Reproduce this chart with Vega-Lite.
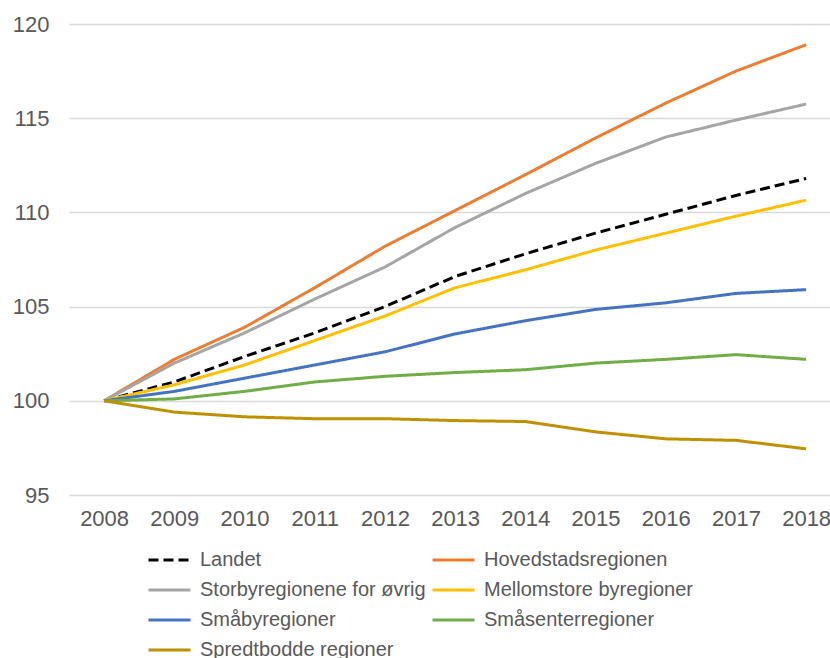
{
  "$schema": "https://vega.github.io/schema/vega-lite/v6.json",
  "width": 761,
  "height": 471,
  "autosize": {"type": "none"},
  "padding": {"left": 69, "top": 24, "right": 0, "bottom": 163},
  "background": "white",
  "config": {
    "view": {"stroke": null},
    "font": "Liberation Sans",
    "axis": {"labelFont": "Liberation Sans", "labelColor": "#595959", "labelFontSize": 22, "domain": false, "ticks": false, "tickSize": 0, "title": null}
  },
  "data": {
    "values": [
      {"region": "Landet", "year": 2008, "value": 100},
      {"region": "Landet", "year": 2009, "value": 101.0},
      {"region": "Landet", "year": 2010, "value": 102.35},
      {"region": "Landet", "year": 2011, "value": 103.6},
      {"region": "Landet", "year": 2012, "value": 105.0},
      {"region": "Landet", "year": 2013, "value": 106.6},
      {"region": "Landet", "year": 2014, "value": 107.8},
      {"region": "Landet", "year": 2015, "value": 108.9},
      {"region": "Landet", "year": 2016, "value": 109.9},
      {"region": "Landet", "year": 2017, "value": 110.9},
      {"region": "Landet", "year": 2018, "value": 111.8},
      {"region": "Hovedstadsregionen", "year": 2008, "value": 100},
      {"region": "Hovedstadsregionen", "year": 2009, "value": 102.2},
      {"region": "Hovedstadsregionen", "year": 2010, "value": 103.9},
      {"region": "Hovedstadsregionen", "year": 2011, "value": 106.0},
      {"region": "Hovedstadsregionen", "year": 2012, "value": 108.2},
      {"region": "Hovedstadsregionen", "year": 2013, "value": 110.1},
      {"region": "Hovedstadsregionen", "year": 2014, "value": 112.0},
      {"region": "Hovedstadsregionen", "year": 2015, "value": 113.95},
      {"region": "Hovedstadsregionen", "year": 2016, "value": 115.8},
      {"region": "Hovedstadsregionen", "year": 2017, "value": 117.5},
      {"region": "Hovedstadsregionen", "year": 2018, "value": 118.9},
      {"region": "Storbyregionene for øvrig", "year": 2008, "value": 100},
      {"region": "Storbyregionene for øvrig", "year": 2009, "value": 102.0},
      {"region": "Storbyregionene for øvrig", "year": 2010, "value": 103.6},
      {"region": "Storbyregionene for øvrig", "year": 2011, "value": 105.4},
      {"region": "Storbyregionene for øvrig", "year": 2012, "value": 107.1},
      {"region": "Storbyregionene for øvrig", "year": 2013, "value": 109.2},
      {"region": "Storbyregionene for øvrig", "year": 2014, "value": 111.0},
      {"region": "Storbyregionene for øvrig", "year": 2015, "value": 112.6},
      {"region": "Storbyregionene for øvrig", "year": 2016, "value": 114.0},
      {"region": "Storbyregionene for øvrig", "year": 2017, "value": 114.9},
      {"region": "Storbyregionene for øvrig", "year": 2018, "value": 115.75},
      {"region": "Mellomstore byregioner", "year": 2008, "value": 100},
      {"region": "Mellomstore byregioner", "year": 2009, "value": 100.85},
      {"region": "Mellomstore byregioner", "year": 2010, "value": 101.9},
      {"region": "Mellomstore byregioner", "year": 2011, "value": 103.2},
      {"region": "Mellomstore byregioner", "year": 2012, "value": 104.5},
      {"region": "Mellomstore byregioner", "year": 2013, "value": 106.0},
      {"region": "Mellomstore byregioner", "year": 2014, "value": 106.95},
      {"region": "Mellomstore byregioner", "year": 2015, "value": 108.0},
      {"region": "Mellomstore byregioner", "year": 2016, "value": 108.9},
      {"region": "Mellomstore byregioner", "year": 2017, "value": 109.8},
      {"region": "Mellomstore byregioner", "year": 2018, "value": 110.65},
      {"region": "Småbyregioner", "year": 2008, "value": 100},
      {"region": "Småbyregioner", "year": 2009, "value": 100.5},
      {"region": "Småbyregioner", "year": 2010, "value": 101.2},
      {"region": "Småbyregioner", "year": 2011, "value": 101.9},
      {"region": "Småbyregioner", "year": 2012, "value": 102.6},
      {"region": "Småbyregioner", "year": 2013, "value": 103.55},
      {"region": "Småbyregioner", "year": 2014, "value": 104.25},
      {"region": "Småbyregioner", "year": 2015, "value": 104.85},
      {"region": "Småbyregioner", "year": 2016, "value": 105.2},
      {"region": "Småbyregioner", "year": 2017, "value": 105.7},
      {"region": "Småbyregioner", "year": 2018, "value": 105.9},
      {"region": "Småsenterregioner", "year": 2008, "value": 100},
      {"region": "Småsenterregioner", "year": 2009, "value": 100.1},
      {"region": "Småsenterregioner", "year": 2010, "value": 100.5},
      {"region": "Småsenterregioner", "year": 2011, "value": 101.0},
      {"region": "Småsenterregioner", "year": 2012, "value": 101.3},
      {"region": "Småsenterregioner", "year": 2013, "value": 101.5},
      {"region": "Småsenterregioner", "year": 2014, "value": 101.65},
      {"region": "Småsenterregioner", "year": 2015, "value": 102.0},
      {"region": "Småsenterregioner", "year": 2016, "value": 102.2},
      {"region": "Småsenterregioner", "year": 2017, "value": 102.45},
      {"region": "Småsenterregioner", "year": 2018, "value": 102.2},
      {"region": "Spredtbodde regioner", "year": 2008, "value": 100},
      {"region": "Spredtbodde regioner", "year": 2009, "value": 99.4},
      {"region": "Spredtbodde regioner", "year": 2010, "value": 99.15},
      {"region": "Spredtbodde regioner", "year": 2011, "value": 99.05},
      {"region": "Spredtbodde regioner", "year": 2012, "value": 99.05},
      {"region": "Spredtbodde regioner", "year": 2013, "value": 98.95},
      {"region": "Spredtbodde regioner", "year": 2014, "value": 98.9},
      {"region": "Spredtbodde regioner", "year": 2015, "value": 98.35},
      {"region": "Spredtbodde regioner", "year": 2016, "value": 97.98},
      {"region": "Spredtbodde regioner", "year": 2017, "value": 97.9},
      {"region": "Spredtbodde regioner", "year": 2018, "value": 97.45}
    ]
  },
  "mark": {"type": "line", "strokeWidth": 3, "strokeCap": "butt", "strokeJoin": "round"},
  "encoding": {
    "x": {
      "field": "year",
      "type": "quantitative",
      "scale": {"domain": [2007.5, 2018.34], "nice": false, "zero": false},
      "axis": {"values": [2008, 2009, 2010, 2011, 2012, 2013, 2014, 2015, 2016, 2017, 2018], "format": "d", "grid": false, "labelPadding": 13, "labelFlush": false, "labelOverlap": false}
    },
    "y": {
      "field": "value",
      "type": "quantitative",
      "scale": {"domain": [95, 120], "nice": false, "zero": false},
      "axis": {"values": [95, 100, 105, 110, 115, 120], "grid": true, "gridColor": "#d9d9d9", "gridWidth": 1.3, "labelPadding": 20}
    },
    "color": {
      "field": "region",
      "type": "nominal",
      "sort": ["Landet", "Hovedstadsregionen", "Storbyregionene for øvrig", "Mellomstore byregioner", "Småbyregioner", "Småsenterregioner", "Spredtbodde regioner"],
      "scale": {
        "domain": ["Landet", "Hovedstadsregionen", "Storbyregionene for øvrig", "Mellomstore byregioner", "Småbyregioner", "Småsenterregioner", "Spredtbodde regioner"],
        "range": ["#000000", "#ED7D31", "#A5A5A5", "#FFC000", "#4472C4", "#70AD47", "#BF9000"]
      },
      "legend": {
        "title": null,
        "orient": "none",
        "legendX": 78,
        "legendY": 526,
        "columns": 2,
        "direction": "horizontal",
        "symbolType": "stroke",
        "symbolSize": 1764,
        "symbolStrokeWidth": 3,
        "clipHeight": 20,
        "labelFont": "Liberation Sans",
        "labelFontSize": 20,
        "labelColor": "#595959",
        "labelOffset": 8,
        "labelLimit": 400,
        "rowPadding": 10,
        "columnPadding": 5
      }
    },
    "strokeDash": {
      "field": "region",
      "type": "nominal",
      "sort": ["Landet", "Hovedstadsregionen", "Storbyregionene for øvrig", "Mellomstore byregioner", "Småbyregioner", "Småsenterregioner", "Spredtbodde regioner"],
      "scale": {
        "domain": ["Landet", "Hovedstadsregionen", "Storbyregionene for øvrig", "Mellomstore byregioner", "Småbyregioner", "Småsenterregioner", "Spredtbodde regioner"],
        "range": [[10, 5], [1, 0], [1, 0], [1, 0], [1, 0], [1, 0], [1, 0]]
      },
      "legend": {
        "title": null,
        "orient": "none",
        "legendX": 78,
        "legendY": 526,
        "columns": 2,
        "direction": "horizontal",
        "symbolType": "stroke",
        "symbolSize": 1764,
        "symbolStrokeWidth": 3,
        "clipHeight": 20,
        "labelFont": "Liberation Sans",
        "labelFontSize": 20,
        "labelColor": "#595959",
        "labelOffset": 8,
        "labelLimit": 400,
        "rowPadding": 10,
        "columnPadding": 5
      }
    }
  }
}
